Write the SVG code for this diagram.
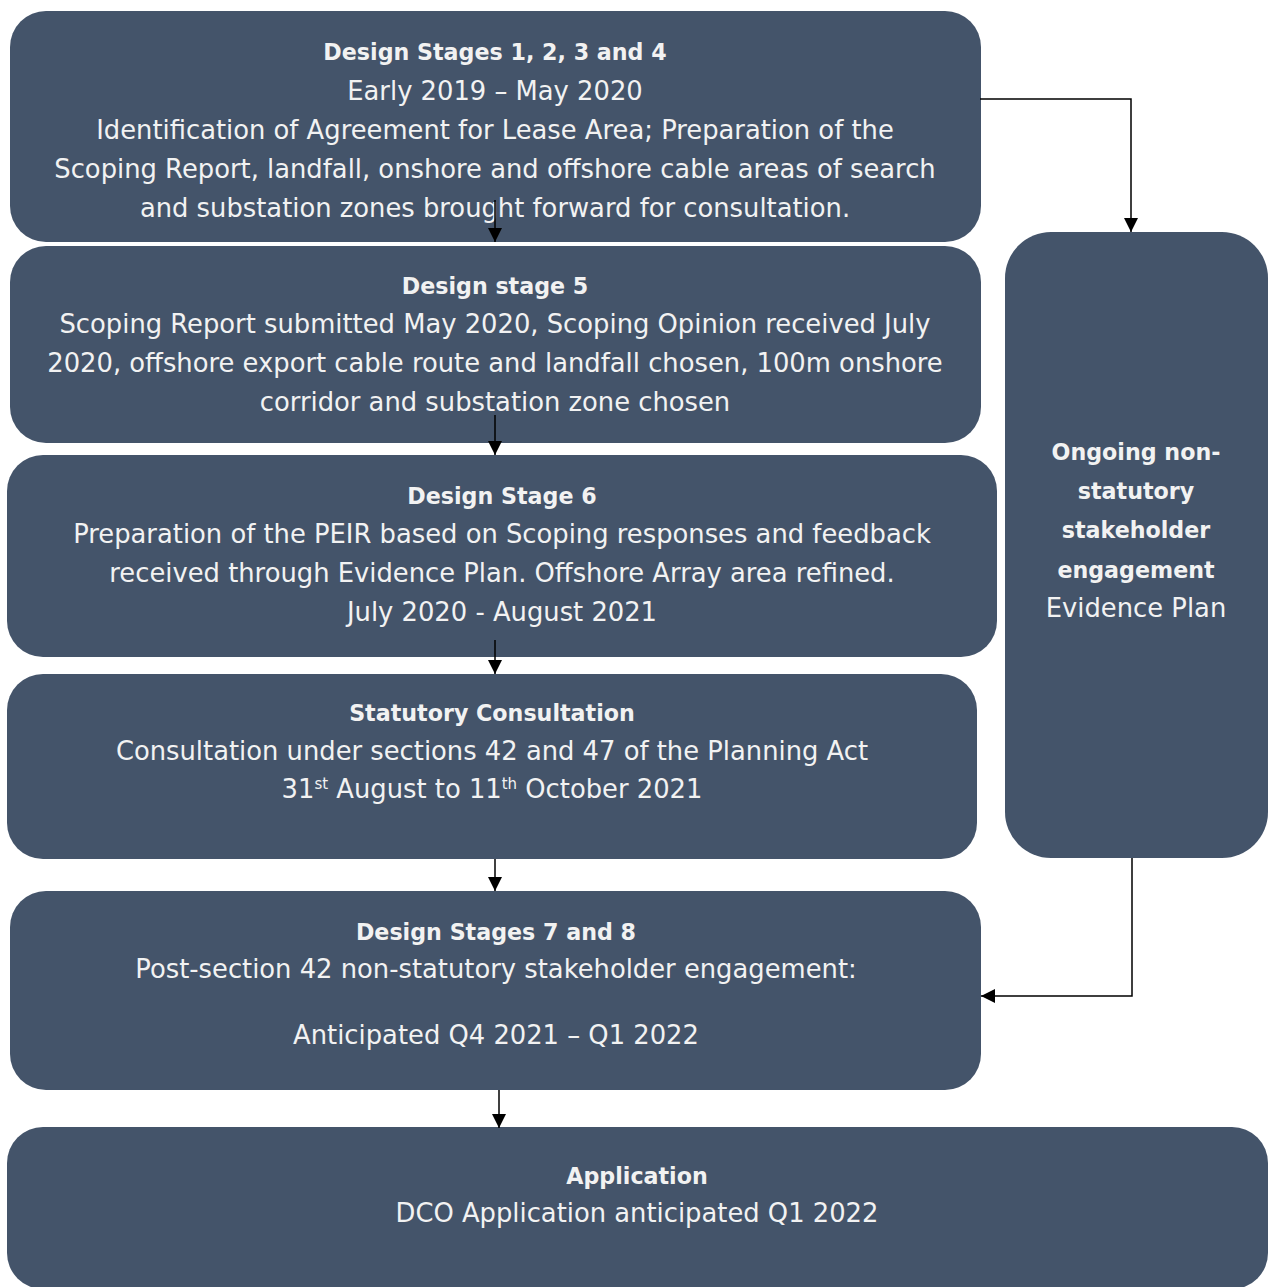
<svg xmlns="http://www.w3.org/2000/svg" width="1269" height="1287" viewBox="0 0 1269 1287">
<defs>
<style>
.box{fill:#44546A;}
.t{font-family:"DejaVu Sans","Liberation Sans",sans-serif;font-size:25.8px;fill:#F2F2F2;text-anchor:middle;}
.b{font-weight:bold;font-size:22.2px;}
.c{stroke:#000;stroke-width:1.5;fill:none;}
</style>
<marker id="ah" viewBox="0 0 10 10" refX="10" refY="5" markerWidth="14" markerHeight="15" markerUnits="userSpaceOnUse" orient="auto">
<path d="M0,0 L10,5 L0,10 z" fill="#000"/>
</marker>
</defs>
<rect width="1269" height="1287" fill="#fff"/>
<g id="n1">
<rect class="box" x="10" y="11" width="971" height="231" rx="36"/>
<text class="t b" x="495" y="60">Design Stages 1, 2, 3 and 4</text>
<text class="t" x="495" y="100">Early 2019 – May 2020</text>
<text class="t" x="495" y="139">Identification of Agreement for Lease Area; Preparation of the</text>
<text class="t" x="495" y="178">Scoping Report, landfall, onshore and offshore cable areas of search</text>
<text class="t" x="495" y="217">and substation zones brought forward for consultation.</text>
</g>
<g id="n2">
<rect class="box" x="10" y="246" width="971" height="197" rx="36"/>
<text class="t b" x="495" y="294">Design stage 5</text>
<text class="t" x="495" y="333">Scoping Report submitted May 2020, Scoping Opinion received July</text>
<text class="t" x="495" y="372">2020, offshore export cable route and landfall chosen, 100m onshore</text>
<text class="t" x="495" y="411">corridor and substation zone chosen</text>
</g>
<g id="n3">
<rect class="box" x="7" y="455" width="990" height="202" rx="36"/>
<text class="t b" x="502" y="504">Design Stage 6</text>
<text class="t" x="502" y="543">Preparation of the PEIR based on Scoping responses and feedback</text>
<text class="t" x="502" y="582">received through Evidence Plan. Offshore Array area refined.</text>
<text class="t" x="502" y="621">July 2020 - August 2021</text>
</g>
<g id="n4">
<rect class="box" x="7" y="674" width="970" height="185" rx="36"/>
<text class="t b" x="492" y="721">Statutory Consultation</text>
<text class="t" x="492" y="760">Consultation under sections 42 and 47 of the Planning Act</text>
<text class="t" x="492" y="798">31<tspan font-size="15" dy="-9">st</tspan><tspan dy="9"> August to 11</tspan><tspan font-size="15" dy="-9">th</tspan><tspan dy="9"> October 2021</tspan></text>
</g>
<g id="n5">
<rect class="box" x="10" y="891" width="971" height="199" rx="36"/>
<text class="t b" x="496" y="940">Design Stages 7 and 8</text>
<text class="t" x="496" y="978">Post-section 42 non-statutory stakeholder engagement:</text>
<text class="t" x="496" y="1044">Anticipated Q4 2021 – Q1 2022</text>
</g>
<g id="n6">
<rect class="box" x="7" y="1127" width="1261" height="162" rx="36"/>
<text class="t b" x="637" y="1184">Application</text>
<text class="t" x="637" y="1222">DCO Application anticipated Q1 2022</text>
</g>
<g id="n7">
<rect class="box" x="1005" y="232" width="263" height="626" rx="46"/>
<text class="t b" x="1136" y="460">Ongoing non-</text>
<text class="t b" x="1136" y="499">statutory</text>
<text class="t b" x="1136" y="538">stakeholder</text>
<text class="t b" x="1136" y="578">engagement</text>
<text class="t" x="1136" y="617">Evidence Plan</text>
</g>
<g id="connectors">
<line class="c" x1="495" y1="200" x2="495" y2="242" marker-end="url(#ah)"/>
<line class="c" x1="495" y1="415" x2="495" y2="455" marker-end="url(#ah)"/>
<line class="c" x1="495" y1="640" x2="495" y2="674" marker-end="url(#ah)"/>
<line class="c" x1="495" y1="859" x2="495" y2="891" marker-end="url(#ah)"/>
<line class="c" x1="499" y1="1090" x2="499" y2="1128" marker-end="url(#ah)"/>
<polyline class="c" points="980,99 1131,99 1131,232" marker-end="url(#ah)"/>
<polyline class="c" points="1132,858 1132,996 981,996" marker-end="url(#ah)"/>
</g>
</svg>
